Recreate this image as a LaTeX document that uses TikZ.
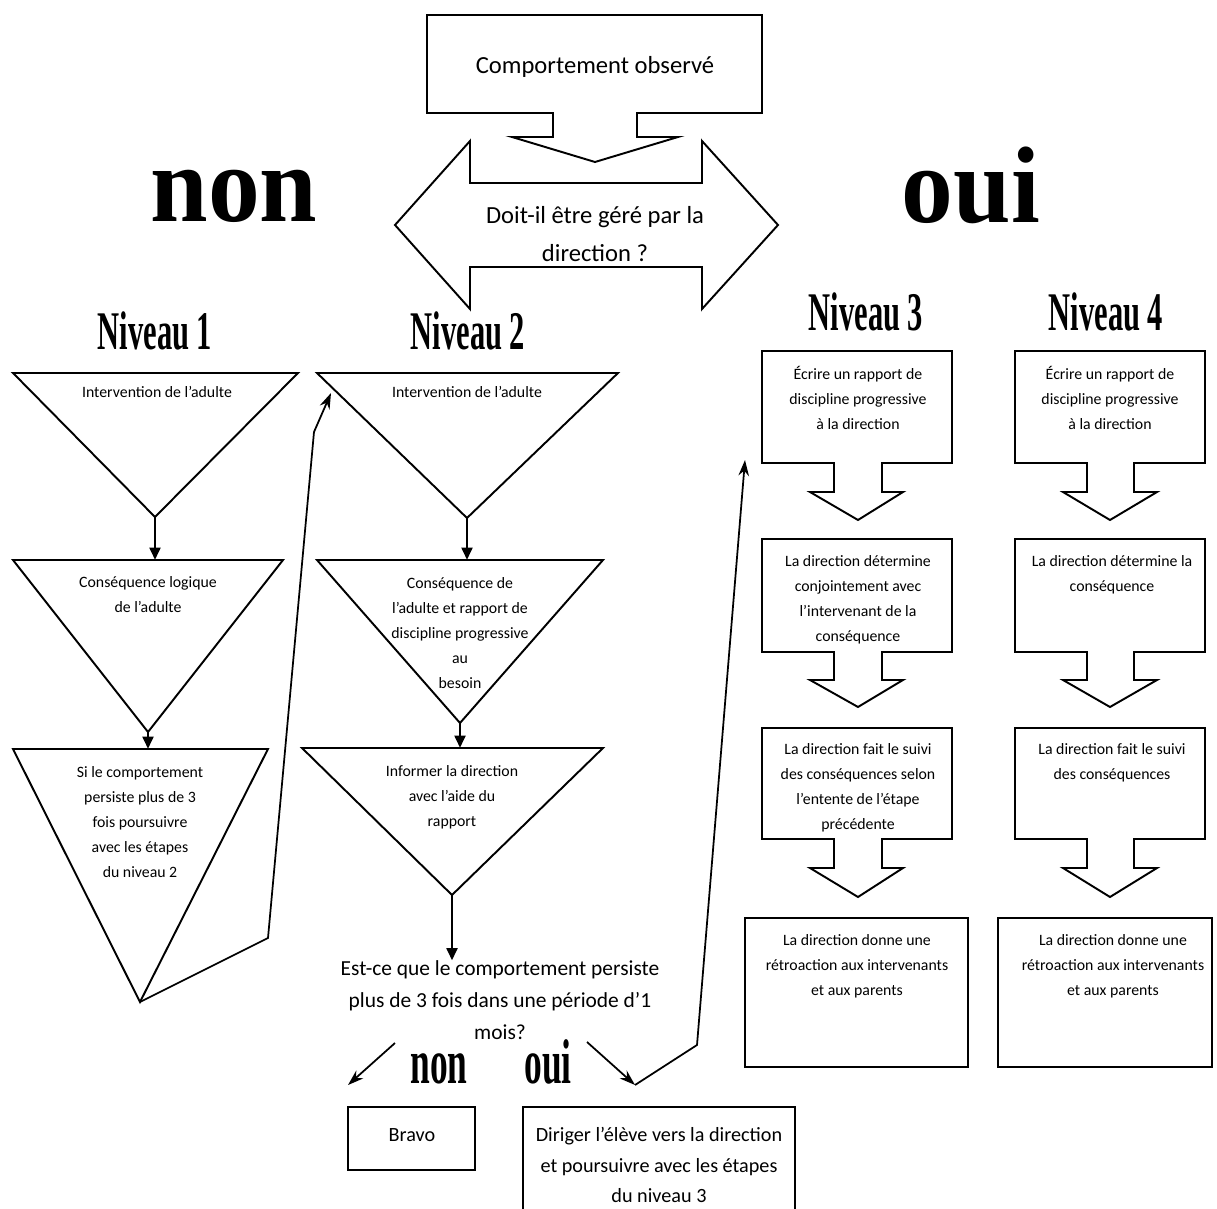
\documentclass[tikz,border=0pt]{standalone}
\usepackage{fontspec}
\setmainfont{Carlito}
\newfontfamily\titlefont[FakeStretch=0.56]{Liberation Serif}
\newfontfamily\bigfont[FakeStretch=0.95]{Liberation Serif}
\usetikzlibrary{arrows.meta}

\begin{document}
\begin{tikzpicture}[x=0.02cm,y=-0.02cm,inner sep=0pt,outer sep=0pt,line width=1.1pt,
shapeline/.style={draw,fill=white,line width=1.1pt,line join=miter},
small/.style={align=center,font=\fontsize{9}{14.2}\selectfont},
big/.style={align=center,font=\fontsize{14}{21.5}\selectfont},
mid/.style={align=center,font=\fontsize{11.5}{17.6}\selectfont},
level/.style={anchor=base,font=\titlefont\bfseries\fontsize{31}{31}\selectfont},
answer/.style={anchor=base,font=\titlefont\bfseries\fontsize{36}{36}\selectfont},
bigword/.style={anchor=base,font=\bigfont\bfseries\fontsize{62}{62}\selectfont},
flow/.style={-{Triangle[length=7pt,width=6pt]},line width=1.7pt},
link/.style={-{Stealth[length=9pt,width=6pt]},line width=1pt}]
\useasboundingbox (0,0) rectangle (1217,1209);

% question du haut
\draw[shapeline] (395,225) -- (470,141) -- (470,183) -- (702,183) -- (702,141) -- (778,225)
  -- (702,309) -- (702,267) -- (470,267) -- (470,309) -- cycle;
\draw[shapeline] (427,15) -- (762,15) -- (762,113) -- (637,113) -- (637,137) -- (678,137)
  -- (595,162) -- (512,137) -- (553,137) -- (553,113) -- (427,113) -- cycle;
\node[big] (obs) at (595,67) {Comportement observé};
\node[big] (gere) at (595,234) {Doit-il être géré par la\\direction ?};
\node[bigword] (non) at (234,222) {non};
\node[bigword] (oui) at (971,223) {oui};

% niveaux 1 et 2
\node[level] (niv1) at (155,350) {Niveau 1};
\node[level] (niv2) at (468,350) {Niveau 2};
\draw[shapeline] (13,373) -- (298,373) -- (155,517) coordinate (t1b) -- cycle;
\draw[shapeline] (13,560) coordinate (t2l) -- (283,560) -- (148,732) coordinate (t2b) -- cycle;
\draw[shapeline] (13,749) coordinate (t3l) -- (268,749) -- (140,1002) coordinate (t3b) -- cycle;
\draw[shapeline] (317,373) coordinate (t4l) -- (618,373) -- (467,518) coordinate (t4b) -- cycle;
\draw[shapeline] (317,560) coordinate (t5l) -- (603,560) -- (460,723) coordinate (t5b) -- cycle;
\draw[shapeline] (302,748) coordinate (t6l) -- (603,748) -- (452,895) coordinate (t6b) -- cycle;
\node[small] (t1txt) at (157,392) {Intervention de l’adulte};
\node[small] (t2txt) at (148,595) {Conséquence logique\\de l’adulte};
\node[small] (t3txt) at (140,822) {Si le comportement\\persiste plus de 3\\fois poursuivre\\avec les étapes\\du niveau 2};
\node[small] (t4txt) at (467,392) {Intervention de l’adulte};
\node[small] (t5txt) at (460,633) {Conséquence de\\l’adulte et rapport de\\discipline progressive\\au\\besoin};
\node[small] (t6txt) at (452,797) {Informer la direction\\avec l’aide du\\rapport};
\draw[flow] (t1b) -- (t1b |- t2l);
\draw[flow] (t2b) -- (t2b |- t3l);
\draw[flow] (t4b) -- (t4b |- t5l);
\draw[flow] (t5b) -- (t5b |- t6l);
\coordinate (n2in) at (331,393);
\draw[link] (t3b) -- (268,938) -- (314,432) -- (n2in);

% question du bas
\node[mid,font=\fontsize{12.2}{18.2}\selectfont] (persiste) at (500,1000) {Est-ce que le comportement persiste\\plus de 3 fois dans une période d’1\\mois?};
\draw[flow] (t6b) -- (t6b |- persiste.north);
\node[answer] (non2) at (439,1083) {non};
\node[answer] (oui2) at (548,1083) {oui};
\draw (348,1107) rectangle (475,1170);
\node[mid] (bravo) at (412,1135) {Bravo};
\draw (523,1107) rectangle (795,1240);
\node[mid] (diriger) at (659,1165) {Diriger l’élève vers la direction\\et poursuivre avec les étapes\\du niveau 3};
\coordinate (nonend) at (348,1085);
\coordinate (ouiend) at (635,1085);
\coordinate (n3in) at (745,460);
\draw[link] (395,1043) -- (nonend);
\draw[link] (587,1042) -- (ouiend);
\draw[link] (ouiend) -- (697,1045) -- (n3in);

% niveaux 3 et 4
\node[level] (niv3) at (866,331) {Niveau 3};
\node[level] (niv4) at (1106,331) {Niveau 4};
\draw[shapeline] (762,351) -- (952,351) -- (952,463) -- (882,463) -- (882,492) -- (903,492)
  -- (858,520) -- (810,492) -- (834,492) -- (834,463) -- (762,463) -- cycle;
\draw[shapeline] (762,539) -- (952,539) -- (952,652) -- (882,652) -- (882,680) -- (903,680)
  -- (858,707) -- (810,680) -- (834,680) -- (834,652) -- (762,652) -- cycle;
\draw[shapeline] (762,728) -- (952,728) -- (952,839) -- (882,839) -- (882,868) -- (903,868)
  -- (858,897) -- (810,868) -- (834,868) -- (834,839) -- (762,839) -- cycle;
\draw (745,918) rectangle (968,1067);
\draw[shapeline] (1015,351) -- (1205,351) -- (1205,463) -- (1134,463) -- (1134,492) -- (1157,492)
  -- (1110,520) -- (1063,492) -- (1087,492) -- (1087,463) -- (1015,463) -- cycle;
\draw[shapeline] (1015,539) -- (1205,539) -- (1205,652) -- (1134,652) -- (1134,680) -- (1157,680)
  -- (1110,707) -- (1063,680) -- (1087,680) -- (1087,652) -- (1015,652) -- cycle;
\draw[shapeline] (1015,728) -- (1205,728) -- (1205,839) -- (1134,839) -- (1134,868) -- (1157,868)
  -- (1110,897) -- (1063,868) -- (1087,868) -- (1087,839) -- (1015,839) -- cycle;
\draw (998,918) rectangle (1212,1067);
\node[small] (a3) at (858,398) {Écrire un rapport de\\discipline progressive\\à la direction};
\node[small] (b3) at (858,600) {La direction détermine\\conjointement avec\\l’intervenant de la\\conséquence};
\node[small] (c3) at (858,788) {La direction fait le suivi\\des conséquences selon\\l’entente de l’étape\\précédente};
\node[small] (d3) at (857,966) {La direction donne une\\rétroaction aux intervenants\\et aux parents};
\node[small] (a4) at (1110,398) {Écrire un rapport de\\discipline progressive\\à la direction};
\node[small] (b4) at (1112,575) {La direction détermine la\\conséquence};
\node[small] (c4) at (1112,763) {La direction fait le suivi\\des conséquences};
\node[small] (d4) at (1113,966) {La direction donne une\\rétroaction aux intervenants\\et aux parents};
\end{tikzpicture}
\end{document}
